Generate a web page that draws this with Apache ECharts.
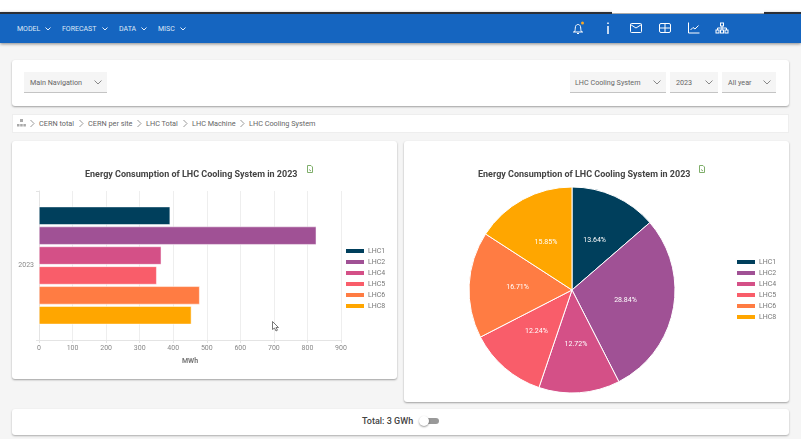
<!DOCTYPE html>
<html>
<head>
<meta charset="utf-8">
<script src="https://cdn.jsdelivr.net/npm/echarts@6/dist/echarts.min.js"></script>
<style>
  html, body { margin: 0; padding: 0; }
  body { width: 801px; height: 439px; overflow: hidden; background: #f5f5f5; position: relative;
         font-family: Roboto, sans-serif; color: #555; }
  .abs { position: absolute; box-sizing: border-box; }
  .card { background: #fff; border-radius: 3px; box-shadow: 0 1px 2px rgba(0,0,0,.35); }
  .top { left: 0; top: 0; width: 801px; height: 13px; background: #fff; }
  .tab { left: 612px; top: 0; width: 152px; height: 14px; background: #fff; border-bottom: 1px solid #aaa; z-index: 2; }
  .nav { left: 0; top: 12px; width: 801px; height: 31px; background: #1565c0; border-top: 2px solid #2b2f36;
         box-shadow: 0 1px 3px rgba(0,0,0,.45); }
  .menu { top: 24px; color: #dfe9f6; font-size: 7px; line-height: 10px; white-space: nowrap; }
  .select { top: 72px; height: 21px; background: #f5f5f5; border-bottom: 1px solid #c4c4c4; font-size: 7.2px;
            line-height: 21px; padding-left: 6px; color: #666; }
  .select svg { position: absolute; right: 5px; top: 8px; }
  .crumbs { left: 12px; top: 114px; width: 777px; height: 19px; background: #fff; border: 1px solid #eee; }
  .crumb { top: 119px; font-size: 7.3px; line-height: 10px; color: #666; white-space: nowrap; }
  .gt { top: 119px; }
  .icon { top: 21px; }
  .total { left: 12px; top: 409px; width: 777px; height: 26px; background: #fff; border-radius: 3px; box-shadow: 0 1px 2px rgba(0,0,0,.3); }
</style>
</head>
<body>
<div class="abs top"></div>
<div class="abs tab"></div>
<div class="abs nav"></div>

<div class="abs menu" style="left:17px">MODEL</div>
<div class="abs menu" style="left:62px">FORECAST</div>
<div class="abs menu" style="left:119px">DATA</div>
<div class="abs menu" style="left:158px">MISC</div>
<svg class="abs" style="left:45px;top:27px" width="6" height="4"><path d="M.5 .5 3 3 5.500 .5" fill="none" stroke="#e8f0fa" stroke-width="1"/></svg>
<svg class="abs" style="left:102px;top:27px" width="6" height="4"><path d="M.5 .5 3 3 5.500 .5" fill="none" stroke="#e8f0fa" stroke-width="1"/></svg>
<svg class="abs" style="left:141px;top:27px" width="6" height="4"><path d="M.5 .5 3 3 5.500 .5" fill="none" stroke="#e8f0fa" stroke-width="1"/></svg>
<svg class="abs" style="left:180px;top:27px" width="6" height="4"><path d="M.5 .5 3 3 5.500 .5" fill="none" stroke="#e8f0fa" stroke-width="1"/></svg>

<svg class="abs icon" style="left:571px" width="16" height="14" fill="none" stroke="#fff" stroke-width="1">
  <path d="M2 11h10M3.500 11c1-2 .5-3 1-5.500 .5-1.500 1.500-2 2.500-2s2 .5 2.500 2c.5 2.500 0 3.500 1 5.500M6 12.500h2"/>
  <circle cx="11.500" cy="2" r="1.500" fill="#f9a825" stroke="none"/>
</svg>
<svg class="abs icon" style="left:604px" width="8" height="14" fill="none" stroke="#fff" stroke-width="1.500"><path d="M4 1.500v1.500M4 5v8"/></svg>
<svg class="abs icon" style="left:629px" width="14" height="14" fill="none" stroke="#fff" stroke-width="1"><rect x="1.500" y="2.500" width="11" height="9" rx="1"/><path d="M1.500 3.500 7 7 12.500 3.500"/></svg>
<svg class="abs icon" style="left:658px" width="14" height="14" fill="none" stroke="#fff" stroke-width="1"><rect x="1.500" y="2.500" width="11" height="9" rx="1.500"/><path d="M7 2.500v9M1.500 7h11"/></svg>
<svg class="abs icon" style="left:687px" width="14" height="14" fill="none" stroke="#fff" stroke-width="1"><path d="M1.500 1.500v10.500h11M3.500 9 6 6.500 8 8 11.500 4.500"/></svg>
<svg class="abs icon" style="left:715px" width="14" height="14" fill="none" stroke="#fff" stroke-width="1"><rect x="5.500" y="2" width="3" height="3"/><rect x="1" y="9" width="3" height="3"/><rect x="5.500" y="9" width="3" height="3"/><rect x="10" y="9" width="3" height="3"/><path d="M7 5v4M2.500 9V7h9v2"/></svg>

<div class="abs card" style="left:12px;top:60px;width:777px;height:46px"></div>
<div class="abs select" style="left:24px;width:83px">Main Navigation<svg width="8" height="5"><path d="M.5 .5 4 4 7.500 .5" fill="none" stroke="#888"/></svg></div>
<div class="abs select" style="left:570px;width:96px;padding-left:5px">LHC Cooling System<svg width="8" height="5"><path d="M.5 .5 4 4 7.500 .5" fill="none" stroke="#888"/></svg></div>
<div class="abs select" style="left:670px;width:48px">2023<svg width="8" height="5"><path d="M.5 .5 4 4 7.500 .5" fill="none" stroke="#888"/></svg></div>
<div class="abs select" style="left:722px;width:54px">All year<svg width="8" height="5"><path d="M.5 .5 4 4 7.500 .5" fill="none" stroke="#888"/></svg></div>

<div class="abs crumbs"></div>
<svg class="abs" style="left:17px;top:119px" width="9" height="8" fill="#aaa"><rect x="3" y="0" width="3" height="3"/><rect x="0" y="5" width="2.500" height="2.500"/><rect x="3.200" y="5" width="2.500" height="2.500"/><rect x="6.400" y="5" width="2.500" height="2.500"/></svg>
<div class="abs crumb" style="left:39px">CERN total</div>
<div class="abs crumb" style="left:88px">CERN per site</div>
<div class="abs crumb" style="left:146px">LHC Total</div>
<div class="abs crumb" style="left:192px">LHC Machine</div>
<div class="abs crumb" style="left:249px">LHC Cooling System</div>
<svg class="abs gt" style="left:30px" width="5" height="9"><path d="M.5 1 4 4.500 .5 8" fill="none" stroke="#999"/></svg>
<svg class="abs gt" style="left:79px" width="5" height="9"><path d="M.5 1 4 4.500 .5 8" fill="none" stroke="#999"/></svg>
<svg class="abs gt" style="left:137px" width="5" height="9"><path d="M.5 1 4 4.500 .5 8" fill="none" stroke="#999"/></svg>
<svg class="abs gt" style="left:183px" width="5" height="9"><path d="M.5 1 4 4.500 .5 8" fill="none" stroke="#999"/></svg>
<svg class="abs gt" style="left:240px" width="5" height="9"><path d="M.5 1 4 4.500 .5 8" fill="none" stroke="#999"/></svg>

<div class="abs card" style="left:12px;top:141px;width:385px;height:238px"></div>
<div class="abs card" style="left:404px;top:141px;width:385px;height:261px"></div>
<div id="barChart" class="abs" style="left:12px;top:141px;width:385px;height:238px"></div>
<div id="pieChart" class="abs" style="left:404px;top:141px;width:385px;height:261px"></div>

<svg class="abs" style="left:307px;top:165px" width="6" height="8"><path d="M.5 .5h3.500l1.500 1.500v5.500h-5z" fill="#fff" stroke="#7fae6a"/><path d="M2 4.500l2 1.500" stroke="#7fae6a"/></svg>
<svg class="abs" style="left:699px;top:165px" width="6" height="8"><path d="M.5 .5h3.500l1.500 1.500v5.500h-5z" fill="#fff" stroke="#7fae6a"/><path d="M2 4.500l2 1.500" stroke="#7fae6a"/></svg>
<svg class="abs" style="left:272px;top:321px;z-index:5" width="8" height="11"><path d="M.5 .5v8l2-1.500 1.500 3 1.500-.8-1.500-2.700h2.500z" fill="#fff" stroke="#555" stroke-width=".8"/></svg>

<div class="abs total"></div>
<div class="abs" style="left:362px;top:416px;font-size:9px;font-weight:500;line-height:11px;color:#444;white-space:nowrap">Total: 3 GWh</div>
<div class="abs" style="left:423px;top:418px;width:16px;height:6px;border-radius:3px;background:#999"></div>
<div class="abs" style="left:419px;top:416px;width:10px;height:10px;border-radius:5px;background:#fff;box-shadow:0 1px 2px rgba(0,0,0,.4)"></div>

<script>
const titleText = 'Energy Consumption of LHC Cooling System in 2023';
const yearLabels = ['2023'];
const machines = ['LHC1', 'LHC2', 'LHC4', 'LHC5', 'LHC6', 'LHC8'];
const consumption = [390.8, 826.3, 364.4, 350.7, 478.7, 454.1];
const palette = ['#003f5c', '#a05195', '#d45087', '#f95d6a', '#ff7c43', '#ffa600'];

const fontName = 'Roboto';

function legendFor(left, top) {
  return {
    data: machines,
    orient: 'vertical',
    left: left,
    top: top,
    itemWidth: 20,
    itemHeight: 6,
    itemGap: 3,
    icon: 'rect',
    selectedMode: false,
    textStyle: { fontFamily: fontName, fontSize: 7, color: '#777', padding: [0, 0, 0, -2], lineHeight: 8 }
  };
}

const barChart = echarts.init(document.getElementById('barChart'));
barChart.setOption({
  animation: false,
  color: palette,
  title: {
    text: titleText,
    left: 68,
    top: 24,
    textStyle: { fontFamily: fontName, fontSize: 9, fontWeight: 'bold', color: '#444' }
  },
  legend: legendFor(327, 101),
  grid: { left: 27, top: 50, width: 302, height: 149 },
  xAxis: {
    type: 'value',
    min: 0,
    max: 900,
    interval: 100,
    name: 'MWh',
    nameLocation: 'middle',
    nameGap: 18,
    nameTextStyle: { fontFamily: fontName, fontSize: 7, fontWeight: 'bold', color: '#777' },
    axisLine: { show: true, lineStyle: { color: '#e4e4e4' } },
    axisTick: { show: true, length: 3, lineStyle: { color: '#e4e4e4' } },
    axisLabel: { fontFamily: fontName, fontSize: 7, color: '#888', margin: 5 },
    splitLine: { show: true, lineStyle: { color: '#eee' } }
  },
  yAxis: {
    type: 'category',
    data: yearLabels,
    inverse: true,
    axisLine: { show: true, lineStyle: { color: '#e4e4e4' } },
    axisTick: { show: true, length: 3, lineStyle: { color: '#e4e4e4' } },
    axisLabel: { fontFamily: fontName, fontSize: 7, color: '#888', margin: 5 }
  },
  series: machines.map(function (name, i) {
    return {
      name: name,
      type: 'bar',
      data: [consumption[i]],
      barGap: '10%',
      barCategoryGap: '21%',
      itemStyle: { borderColor: '#fff', borderWidth: 0.5 }
    };
  })
});

const pieChart = echarts.init(document.getElementById('pieChart'));
pieChart.setOption({
  animation: false,
  color: palette,
  title: {
    text: titleText,
    left: 69,
    top: 24,
    textStyle: { fontFamily: fontName, fontSize: 9, fontWeight: 'bold', color: '#444' }
  },
  legend: legendFor(326, 112),
  series: [{
    type: 'pie',
    center: [168, 149],
    radius: [0, 103],
    data: machines.map(function (name, i) {
      return { name: name, value: consumption[i] };
    }),
    itemStyle: { borderColor: '#fff', borderWidth: 1 },
    label: {
      position: 'inside',
      formatter: function (p) { return p.percent.toFixed(2) + '%'; },
      fontFamily: fontName,
      fontSize: 7,
      color: '#fff'
    },
    labelLine: { show: false },
    percentPrecision: 2
  }]
});
</script>
</body>
</html>
